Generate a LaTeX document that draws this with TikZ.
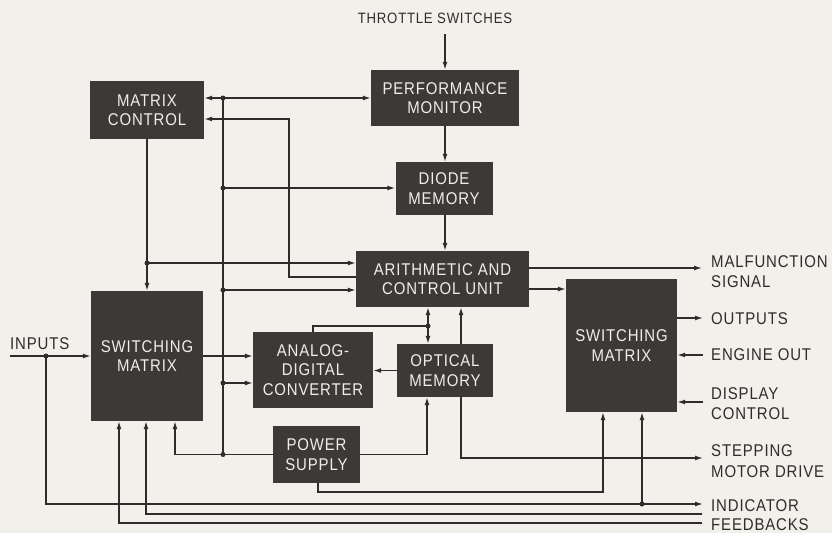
\documentclass[tikz,border=0pt]{standalone}
\usepackage{fontspec}
\setmainfont{Liberation Sans}[FakeStretch=0.88,LetterSpace=5]
\usetikzlibrary{arrows.meta,calc}
\definecolor{bg}{HTML}{F2F0EB}
\definecolor{boxc}{HTML}{3B3A38}
\definecolor{ink}{HTML}{2E2D2B}
\definecolor{boxtext}{HTML}{F0EEE8}
\tikzset{
  blk/.style={fill=boxc, text=boxtext, align=center, inner sep=0pt, font=\fontsize{17}{19.5}\selectfont},
  lab/.style={text=ink, align=left, inner sep=0pt, font=\fontsize{17}{20.5}\selectfont, anchor=west},
  wire/.style={draw=ink, line width=1.3pt},
  arr/.style={wire, -{Latex[length=8pt,width=5pt]}},
  jdot/.style={circle, fill=ink, inner sep=0pt, minimum size=5pt},
}
\begin{document}
\begin{tikzpicture}[x=1pt,y=-1pt]
\path[use as bounding box, fill=bg] (0,0) rectangle (832,533);

% blocks
\node[blk, minimum width=148pt, minimum height=56pt] (pm) at (445,98) {PERFORMANCE\\MONITOR};
\node[blk, minimum width=97pt, minimum height=53pt] (dm) at (444,188.5) {DIODE\\MEMORY};
\node[blk, minimum width=114pt, minimum height=58pt] (mc) at (147,110) {MATRIX\\CONTROL};
\node[blk, minimum width=173pt, minimum height=56pt] (acu) at (442.5,279) {ARITHMETIC AND\\CONTROL UNIT};
\node[blk, minimum width=120pt, minimum height=76pt] (adc) at (313,370) {ANALOG-\\DIGITAL\\CONVERTER};
\node[blk, minimum width=96pt, minimum height=53pt] (om) at (445,370.5) {OPTICAL\\MEMORY};
\node[blk, minimum width=87pt, minimum height=57pt] (ps) at (316.5,454.5) {POWER\\SUPPLY};
\node[blk, minimum width=112pt, minimum height=130pt] (sml) at (147,356) {SWITCHING\\MATRIX};
\node[blk, minimum width=111pt, minimum height=133pt] (smr) at (621.5,345.5) {SWITCHING\\MATRIX};

% labels
\node[lab, anchor=center, font=\fontsize{15}{18}\selectfont] (thr) at (435,18.5) {THROTTLE SWITCHES};
\node[lab] (inl) at (10,344) {INPUTS};
\node[lab] (mfl) at (711,271.5) {MALFUNCTION\\SIGNAL};
\node[lab] (outl) at (711,319) {OUTPUTS};
\node[lab] (engl) at (711,355) {ENGINE OUT};
\node[lab] (displ) at (711,403.5) {DISPLAY\\CONTROL};
\node[lab] (stl) at (711,461) {STEPPING\\MOTOR DRIVE};
\node[lab] (indl) at (711,505.5) {INDICATOR};
\node[lab] (fbl) at (711,525) {FEEDBACKS};

% coordinates
\coordinate (ts) at (445,34);
\coordinate (b98) at (223,98);
\coordinate (b188) at (223,188);
\coordinate (b290) at (223,290);
\coordinate (b383) at (223,383);
\coordinate (b454) at (223,454.5);
\coordinate (k1) at (289,277);
\coordinate (k2) at (289,119);
\coordinate (d1) at (147,263);
\coordinate (in0) at (10,356);
\coordinate (in1) at (46,356);
\coordinate (in2) at (46,504);
\coordinate (ind) at (703,504);
\coordinate (ind1) at (642,504);
\coordinate (fb1) at (702,514);
\coordinate (fb1b) at (146,514);
\coordinate (fb2) at (702,523);
\coordinate (fb2b) at (119,523);
\coordinate (ps1) at (175,454.5);
\coordinate (om1) at (427,454.5);
\coordinate (ps2) at (318,492);
\coordinate (ps3) at (603,492);
\coordinate (st1) at (461,458);
\coordinate (st2) at (703,458);
\coordinate (d2) at (428,326);
\coordinate (d3) at (313,326);
\coordinate (mf) at (702,268);
\coordinate (sr) at (566,289);
\coordinate (out) at (703,318);
\coordinate (eng) at (703,355);
\coordinate (disp) at (703,402);

% connectors
\draw[arr] (ts) -- (pm.north);
\draw[arr] (pm.south) -- (pm.south |- dm.north);
\draw[arr] (pm.south |- dm.south) -- (pm.south |- acu.north);
\draw[wire] (b98) -- (b454);
\draw[arr] (b98) -- (mc.east |- b98);
\draw[arr] (b98) -- (pm.west |- b98);
\draw[arr] (b188) -- (dm.west |- b188);
\draw[arr] (b290) -- (acu.west |- b290);
\draw[arr] (b383) -- (adc.west |- b383);
\draw[arr] (acu.west |- k1) -- (k1) -- (k2) -- (mc.east |- k2);
\draw[arr] (mc.south) -- (sml.north);
\draw[arr] (d1) -- (acu.west |- d1);
\draw[arr] (sml.east) -- (adc.west |- sml.east);
\draw[arr] (in0) -- (sml.west |- in0);
\draw[arr] (in1) -- (in2) -- (ind);
\draw[arr] (ind1) -- (ind1 |- smr.south);
\draw[arr] (fb1) -- (fb1b) -- (fb1b |- sml.south);
\draw[arr] (fb2) -- (fb2b) -- (fb2b |- sml.south);
\draw[arr] (ps.west) -- (ps1) -- (ps1 |- sml.south);
\draw[arr] (ps.east) -- (om1) -- (om1 |- om.south);
\draw[arr] (ps.south -| ps2) -- (ps2) -- (ps3) -- (ps3 |- smr.south);
\draw[arr] (om.south -| st1) -- (st1) -- (st2);
\draw[arr] (om.north -| st1) -- (st1 |- acu.south);
\draw[arr] (d2) -- (d2 |- acu.south);
\draw[arr] (d2) -- (d2 |- om.north);
\draw[wire] (d2) -- (d3) -- (d3 |- adc.north);
\draw[arr] (om.west) -- (adc.east |- om.west);
\draw[arr] (acu.east |- mf) -- (mf);
\draw[arr] (acu.east |- sr) -- (smr.west |- sr);
\draw[arr] (smr.east |- out) -- (out);
\draw[arr] (eng) -- (smr.east |- eng);
\draw[arr] (disp) -- (smr.east |- disp);

% junction dots
\foreach \p in {b98,b188,b290,b383,b454,d1,in1,ind1,d2}
  \node[jdot] at (\p) {};
\end{tikzpicture}
\end{document}
